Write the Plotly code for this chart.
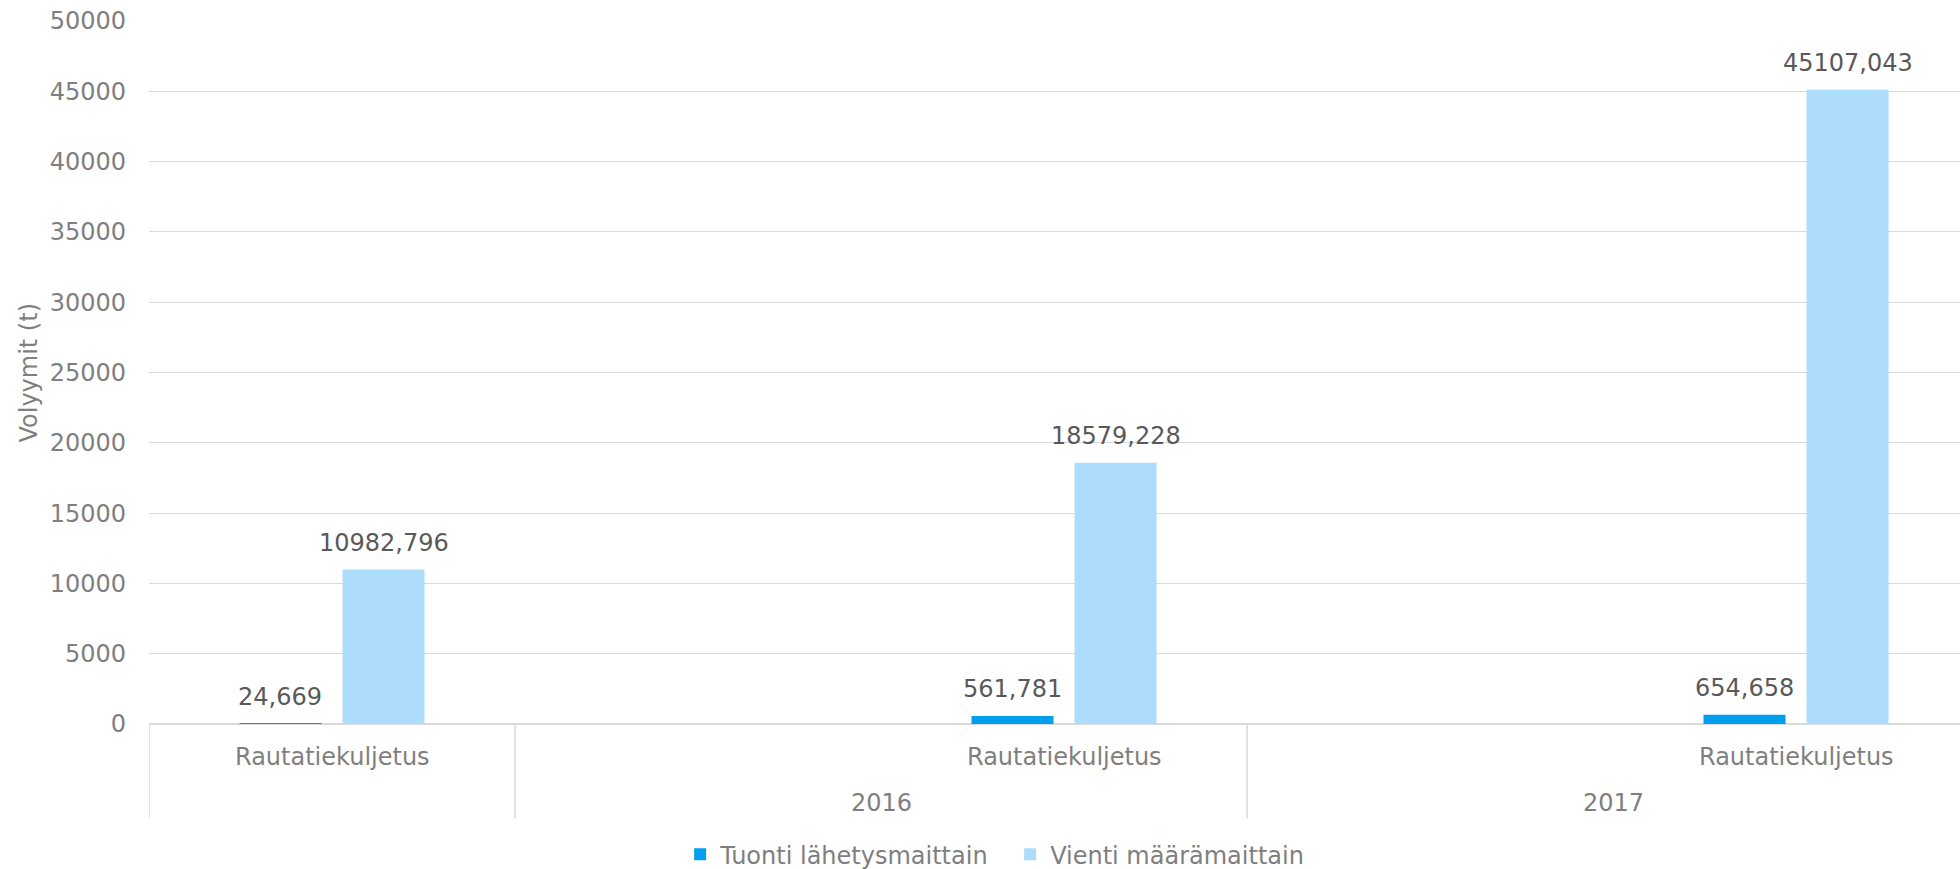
import plotly.graph_objects as go

# Excel-tyylinen kaksitasoinen kategoria-akseli: vuosi / kuljetusmuoto
YEARS = ["", "2016", "2016", "2017", "2017"]
MODES = ["Rautatiekuljetus", "", "Rautatiekuljetus", "", "Rautatiekuljetus"]
TUONTI = [24.669, None, 561.781, None, 654.658]
VIENTI = [10982.796, None, 18579.228, None, 45107.043]
SERIES = ["Tuonti lähetysmaittain", "Vienti määrämaittain"]
Y_TICKS = list(range(0, 50001, 5000))

DARK = "#009FEE"
LIGHT = "#ADDCFD"
GRID = "#D9D9D9"
TICK_C = "#7F7F7F"
LABEL_C = "#595959"
FONT = "DejaVu Sans"
FS = 24

cats = [f"{y}|{m}|{i}" for i, (y, m) in enumerate(zip(YEARS, MODES))]


def fi(v):
    return f"{v:.3f}".replace(".", ",")


fig = go.Figure()
for name, vals, col in [(SERIES[0], TUONTI, DARK), (SERIES[1], VIENTI, LIGHT)]:
    fig.add_trace(go.Bar(x=cats, y=vals, name=name, marker_color=col, marker_line_width=0))

# arvojen selitteet palkkien yläpuolelle
for vals, shift in [(TUONTI, -52), (VIENTI, 52)]:
    for c, v in zip(cats, vals):
        if v is None:
            continue
        fig.add_annotation(x=c, y=v, xref="x", yref="y", text=fi(v), showarrow=False,
                           xshift=shift, yshift=11, yanchor="bottom",
                           font=dict(family=FONT, size=FS, color=LABEL_C))

# alemman rivin tekstit (kuljetusmuoto)
for i, m in enumerate(MODES):
    if m:
        fig.add_annotation(x=i, y=-0.047, xref="x", yref="paper", text=m, showarrow=False,
                           yanchor="middle", font=dict(family=FONT, size=FS, color=TICK_C))

# vuosiryhmät: otsikko keskelle ja erotinviivat reunoille
groups = []
for i, y in enumerate(YEARS):
    if not groups or groups[-1][0] != y:
        groups.append([y, i, i])
    else:
        groups[-1][2] = i
for y, a, b in groups:
    fig.add_shape(type="line", xref="x", yref="paper", x0=a - 0.5, x1=a - 0.5, y0=0, y1=-0.134,
                  line=dict(color=GRID, width=1.5), layer="above")
    if y:
        fig.add_annotation(x=(a + b) / 2, y=-0.112, xref="x", yref="paper", text=y, showarrow=False,
                           yanchor="middle", font=dict(family=FONT, size=FS, color=TICK_C))

fig.add_annotation(x=-0.0668, y=0.5, xref="paper", yref="paper", text="Volyymit (t)",
                   textangle=-90, showarrow=False, xanchor="center", yanchor="middle",
                   font=dict(family=FONT, size=FS, color=TICK_C))

fig.update_layout(
    width=1960, height=869,
    margin=dict(l=149, r=0, t=21, b=145, autoexpand=False),
    paper_bgcolor="white", plot_bgcolor="white",
    font=dict(family=FONT, size=FS, color=TICK_C),
    barmode="group", bargap=0.437, bargroupgap=0.204,
    showlegend=True,
    legend=dict(orientation="h", x=0.4755, xanchor="center", y=-0.186, yanchor="middle",
                entrywidth=285, entrywidthmode="pixels",
                font=dict(family=FONT, size=FS, color=TICK_C), itemsizing="constant"),
)
fig.update_xaxes(type="category", categoryorder="array", categoryarray=cats,
                 range=[-0.5, 4.448], showticklabels=False, showgrid=False, automargin=False,
                 showline=False, zeroline=False, fixedrange=True)
fig.update_yaxes(range=[0, 50000], tickvals=Y_TICKS, ticktext=[str(t) for t in Y_TICKS],
                 showgrid=True, gridcolor=GRID, gridwidth=1.3, zeroline=True, automargin=False,
                 zerolinecolor=GRID, zerolinewidth=1.5, showline=False, ticks="",
                 ticklabelstandoff=22, tickfont=dict(family=FONT, size=FS, color=TICK_C))

fig.write_html("out.html", config={"displayModeBar": False},
               post_script="document.body.style.margin='0';document.body.style.overflow='hidden';")
